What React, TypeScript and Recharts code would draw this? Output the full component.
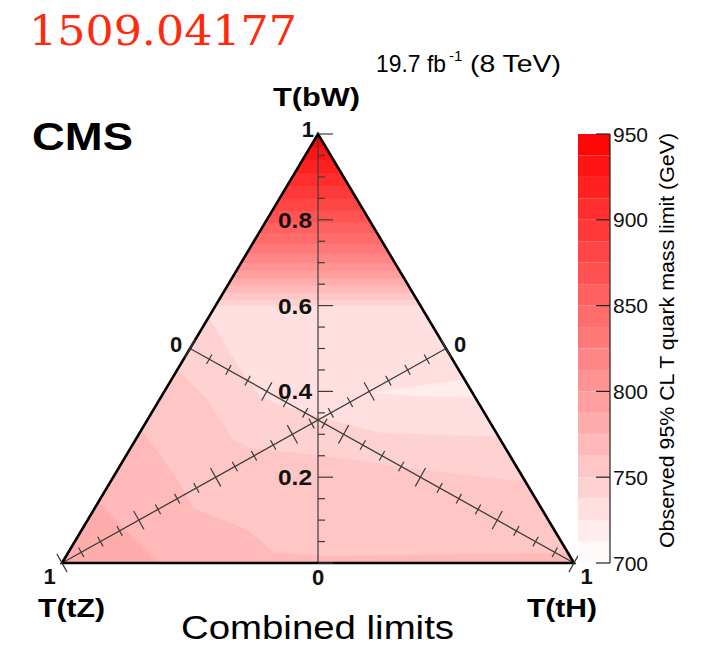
import React from "react";
import { ScatterChart, Scatter, XAxis, YAxis, BarChart, Bar } from "recharts";

// observed limit colour levels (GeV), 12.5 GeV per band
const levelEdges = [700, 712.5, 725, 737.5, 750, 762.5, 775, 787.5, 800, 812.5, 825, 837.5, 850, 862.5, 875, 887.5, 900, 912.5, 925, 937.5, 950];
const colourTicks = [700, 750, 800, 850, 900, 950];

// ticks on the three branching-fraction axes
const axisTicks = [0, 0.05, 0.1, 0.15, 0.2, 0.25, 0.3, 0.35, 0.4, 0.45, 0.5, 0.55, 0.6, 0.65, 0.7, 0.75, 0.8, 0.85, 0.9, 0.95, 1];
const labelledTicks = [0.2, 0.4, 0.6, 0.8];

// B(bW) where the contours 737.5 ... 937.5 cross in the bW corner
const bwContours = [0.6, 0.614, 0.63, 0.647, 0.664, 0.682, 0.7, 0.722, 0.745, 0.77, 0.795, 0.822, 0.85, 0.88, 0.91, 0.94, 0.97];

// lower contours as [B(bW), B(tH)] points, B(tZ) = 1 - B(bW) - B(tH)
const lobe737 = [[0.573, 0], [0.45, 0.123], [0.387, 0.193], [0.368, 0.242], [0.333, 0.357], [0.303, 0.47], [0.294, 0.706], [0, 1], [0, 0]];
const lobe750 = [[0.45, 0], [0.38, 0.093], [0.287, 0.191], [0.268, 0.233], [0.247, 0.4], [0.217, 0.591], [0.189, 0.811], [0, 1], [0, 0]];
const lobe762 = [[0.31, 0], [0.194, 0.128], [0.126, 0.195], [0.077, 0.323], [0.023, 0.404], [0.016, 0.515], [0.021, 0.845], [0.023, 0.977], [0, 1], [0, 0]];
const lobe775 = [[0.142, 0], [0.065, 0.1], [0, 0.191], [0, 0]];
const dip712 = [[0.397, 0.413], [0.413, 0.493], [0.427, 0.573], [0.387, 0.613], [0.389, 0.514]];

const corners = [[0, 0], [0, 1], [1, 0]];
const medianZ = [[0, 0], [0.5, 0.5]];
const medianH = [[0, 1], [0.5, 0]];
const medianW = [[1, 0], [0, 0.5]];

const PW = 512;
const PH = 429;
const FONT = "'Liberation Sans', Arial, Helvetica, sans-serif";
const INK = "#3c3c3c";

// ternary fractions -> plot coordinates
const toXY = ([bw, th]: number[]) => ({ x: th + bw / 2, y: bw });

const bandFill = (level: number) => {
  const k = levelEdges.indexOf(level);
  const g = Math.round(255 * (1 - (k + 0.5) / 20));
  return `rgb(255,${g},${g})`;
};

const pathOf = (pts: { x: number; y: number }[], close: boolean) =>
  pts.map((p, i) => `${i ? "L" : "M"}${p.x},${p.y}`).join("") + (close ? "Z" : "");

const noDot = () => <g />;

function region(key: string, pts: number[][], fill: string) {
  return (
    <Scatter
      key={key}
      data={pts.map(toXY)}
      shape={noDot}
      isAnimationActive={false}
      lineType="joint"
      line={(p: any) => <path d={pathOf(p.points, true)} fill={fill} stroke={fill} strokeWidth={0.6} />}
    />
  );
}

function polyline(key: string, pts: number[][], stroke: string, width: number, close = false) {
  return (
    <Scatter
      key={key}
      data={pts.map(toXY)}
      shape={noDot}
      isAnimationActive={false}
      lineType="joint"
      line={(p: any) => (
        <path d={pathOf(p.points, close)} fill="none" stroke={stroke} strokeWidth={width} strokeLinejoin="miter" />
      )}
    />
  );
}

const fillLayers = [
  { key: "base", pts: corners, level: 725 },
  { key: "dip", pts: dip712, level: 712.5 },
  { key: "l737", pts: lobe737, level: 737.5 },
  { key: "l750", pts: lobe750, level: 750 },
  { key: "l762", pts: lobe762, level: 762.5 },
  { key: "l775", pts: lobe775, level: 775 },
  ...bwContours.map((bw, i) => ({ key: `bw${i}`, pts: [[bw, 0], [bw, 1 - bw], [1, 0]], level: levelEdges[i + 3] })),
];

const isMajor = (t: number) => Math.abs(t * 5 - Math.round(t * 5)) < 1e-6;
const tickOf = (p: any) => (p.payload && p.payload.t !== undefined ? p.payload.t : p.t);

const labelStyle = { fontFamily: FONT, fontWeight: "bold" as const, fontSize: 22, fill: "#111" };

// vertical B(bW) axis: ticks to the right, labels to the left
const bwTick = (p: any) => {
  const t = tickOf(p);
  const len = isMajor(t) ? 15 : 7;
  let label = null;
  if (labelledTicks.includes(t)) {
    label = (
      <text x={p.cx - 6} y={p.cy + 8} textAnchor="end" textLength={34} lengthAdjust="spacingAndGlyphs" {...labelStyle}>
        {t.toFixed(1)}
      </text>
    );
  } else if (t === 1) {
    label = <text x={p.cx - 4} y={p.cy + 3} textAnchor="end" {...labelStyle}>1</text>;
  } else if (t === 0) {
    label = <text x={p.cx} y={p.cy + 22} textAnchor="middle" {...labelStyle}>0</text>;
  }
  return (
    <g>
      <line x1={p.cx} x2={p.cx + len} y1={p.cy} y2={p.cy} stroke={INK} strokeWidth={1.2} />
      {label}
    </g>
  );
};

// medians: ticks cross the line, perpendicular in screen space
const medianTick = (side: number) => (p: any) => {
  const t = tickOf(p);
  const dx = side * 0.75 * PW;
  const dy = -0.5 * PH;
  const n = Math.hypot(dx, dy);
  const ux = -dy / n;
  const uy = dx / n;
  const h = isMajor(t) ? 10.5 : 5.5;
  let label = null;
  if (t === 1) label = <text x={p.cx + side * -12.5} y={p.cy + 21} textAnchor="middle" {...labelStyle}>1</text>;
  if (t === 0) label = <text x={p.cx + side * 14} y={p.cy + 3} textAnchor="middle" {...labelStyle}>0</text>;
  return (
    <g>
      <line x1={p.cx - ux * h} y1={p.cy - uy * h} x2={p.cx + ux * h} y2={p.cy + uy * h} stroke={INK} strokeWidth={1.2} />
      {label}
    </g>
  );
};

const bwTickData = axisTicks.map((t) => ({ ...toXY([t, (1 - t) / 2]), t }));
const tzTickData = axisTicks.map((t) => ({ ...toXY([(1 - t) / 2, (1 - t) / 2]), t }));
const thTickData = axisTicks.map((t) => ({ ...toXY([(1 - t) / 2, t]), t }));

// one stacked column for the colour scale, offset by 700 GeV
const colourRow = [
  levelEdges.slice(1).reduce((row: any, hi, i) => ({ ...row, [`s${i}`]: hi - levelEdges[i] }), { name: "limit" }),
];

const ColourTick = (p: any) => (
  <g>
    <line x1={p.x - 17} x2={p.x - 3} y1={p.y} y2={p.y} stroke="#222" strokeWidth={1.2} />
    <text x={p.x} y={p.y + 7.5} fontFamily={FONT} fontSize={21} fill="#111">
      {p.payload.value + 700}
    </text>
  </g>
);

export default function App() {
  return (
    <div style={{ position: "absolute", left: 0, top: 0, width: 701, height: 646, background: "#fff" }}>
      <div style={{ position: "absolute", left: 0, top: 0 }}>
        <ScatterChart width={600} height={646} margin={{ top: 134, right: 26, bottom: 83, left: 62 }}>
          <XAxis type="number" dataKey="x" domain={[0, 1]} hide />
          <YAxis type="number" dataKey="y" domain={[0, 1]} hide />
          {fillLayers.map((l) => region(l.key, l.pts, bandFill(l.level)))}
          {polyline("mz", medianZ, INK, 1.3)}
          {polyline("mh", medianH, INK, 1.3)}
          {polyline("mw", medianW, INK, 1.2)}
          {polyline("frame", corners, "#000", 2.6, true)}
          <Scatter data={bwTickData} shape={bwTick} isAnimationActive={false} />
          <Scatter data={tzTickData} shape={medianTick(1)} isAnimationActive={false} />
          <Scatter data={thTickData} shape={medianTick(-1)} isAnimationActive={false} />
        </ScatterChart>
      </div>
      <div style={{ position: "absolute", left: 560, top: 0 }}>
        <BarChart width={141} height={646} data={colourRow} margin={{ top: 134, bottom: 83, left: 18, right: 31 }} barCategoryGap={0}>
          <XAxis dataKey="name" hide />
          <YAxis
            orientation="right"
            type="number"
            domain={[0, 250]}
            ticks={colourTicks.map((v) => v - 700)}
            interval={0}
            width={60}
            tickSize={0}
            tickMargin={3}
            tickLine={false}
            axisLine={{ stroke: "#222", strokeWidth: 1.2 }}
            tick={<ColourTick />}
          />
          {levelEdges.slice(1).map((_, i) => (
            <Bar key={i} dataKey={`s${i}`} stackId="c" fill={bandFill(levelEdges[i])} isAnimationActive={false} />
          ))}
        </BarChart>
      </div>
      <svg width={701} height={646} style={{ position: "absolute", left: 0, top: 0, pointerEvents: "none" }}>
        <text x={29} y={45} fontFamily="'DejaVu Serif', serif" fontSize={41} fill="#ff2a0c" textLength={268} lengthAdjust="spacingAndGlyphs">
          1509.04177
        </text>
        <g fontFamily={FONT} fill="#000">
          <text x={376} y={72} fontSize={24} textLength={70} lengthAdjust="spacingAndGlyphs">19.7 fb</text>
          <text x={449} y={61} fontSize={15}>-1</text>
          <text x={470} y={72} fontSize={24} textLength={91} lengthAdjust="spacingAndGlyphs">(8 TeV)</text>
          <text x={273} y={106} fontSize={26} fontWeight="bold" textLength={87} lengthAdjust="spacingAndGlyphs">T(bW)</text>
          <text x={32} y={150} fontSize={39} fontWeight="bold" textLength={101} lengthAdjust="spacingAndGlyphs">CMS</text>
          <text x={38} y={617} fontSize={26} fontWeight="bold" textLength={67} lengthAdjust="spacingAndGlyphs">T(tZ)</text>
          <text x={527} y={617} fontSize={26} fontWeight="bold" textLength={70} lengthAdjust="spacingAndGlyphs">T(tH)</text>
          <text x={181} y={639} fontSize={34} textLength={273} lengthAdjust="spacingAndGlyphs">Combined limits</text>
          <text transform="translate(674,340.5) rotate(-90)" textAnchor="middle" fontSize={21} textLength={415} lengthAdjust="spacingAndGlyphs">
            Observed 95% CL T quark mass limit (GeV)
          </text>
        </g>
      </svg>
    </div>
  );
}
